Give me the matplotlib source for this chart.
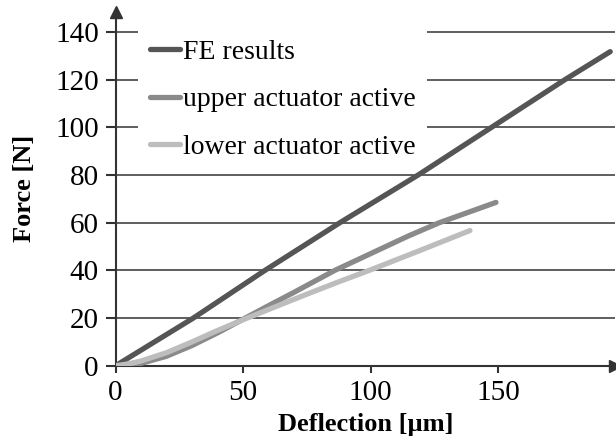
import numpy as np
import matplotlib.pyplot as plt

plt.rcParams['font.family'] = ['Liberation Serif', 'DejaVu Serif']

# FE results (deflection in um, force in N)
fe_x = [0, 30.5, 58.6, 88, 118.7, 147.5, 176.3, 194]
fe_y = [0, 20, 40, 60, 80, 100, 120, 131.7]

# upper actuator active
up_x = [0, 5, 10, 20, 30, 40, 50, 60, 70, 86, 100, 115, 127, 149.2]
up_y = [0, 0.2, 1, 4, 8.5, 13.8, 19.5, 25.2, 30.8, 40, 47, 54.5, 60, 68.5]

# lower actuator active
lo_x = [0, 5, 10, 20, 30, 40, 50, 60, 75, 87, 100, 120, 139]
lo_y = [0, 0.8, 2, 5.5, 10, 14.8, 19.3, 23.6, 30, 35, 40.2, 48.6, 56.7]

x_ticks = [0, 50, 100, 150]
y_ticks = [0, 20, 40, 60, 80, 100, 120, 140]

fig = plt.figure(figsize=(6.16, 4.42), dpi=100)
ax = fig.add_axes([0.1875, 0.1724, 0.8114, 0.8014])

axcol = '#333333'
ax.plot(fe_x, fe_y, color='#555555', lw=3.8, solid_capstyle='round', label='FE results', zorder=3)
ax.plot(up_x, up_y, color='#8a8a8a', lw=3.8, solid_capstyle='round', label='upper actuator active', zorder=3)
ax.plot(lo_x, lo_y, color='#bdbdbd', lw=3.8, solid_capstyle='round', label='lower actuator active', zorder=3)

ax.set_xlim(0, 196)
ax.set_ylim(0, 148.5)
ax.set_xticks(x_ticks)
ax.set_yticks(y_ticks)

# horizontal grid lines
for yv in y_ticks[1:]:
    ax.axhline(yv, color=axcol, lw=1.1, zorder=1)

for s in ['top', 'right']:
    ax.spines[s].set_visible(False)
for s in ['left', 'bottom']:
    ax.spines[s].set_color(axcol)
    ax.spines[s].set_linewidth(1.5)
    ax.spines[s].set_zorder(2.5)

# arrow heads
ax.plot(1, 0, '>', color=axcol, ms=9, transform=ax.transAxes, clip_on=False)
ax.plot(0, 1, '^', color=axcol, ms=9, transform=ax.transAxes, clip_on=False)

ax.tick_params(axis='y', direction='out', length=7, width=1.5, color=axcol, labelsize=21, pad=5)
ax.tick_params(axis='x', direction='out', length=5, width=1.5, color=axcol, labelsize=21, pad=5)

ax.set_xlabel('Deflection [µm]', fontsize=19, fontweight='bold', labelpad=5)
ax.set_ylabel('Force [N]', fontsize=19, fontweight='bold', labelpad=14)

# white legend box hides the grid lines behind it, curves stay on top
leg = ax.legend(loc='upper left', bbox_to_anchor=(0.046, 0.953), fontsize=20,
                frameon=True, fancybox=False, framealpha=1, edgecolor='none',
                facecolor='white', handlelength=1.1, handletextpad=0.1,
                labelspacing=0.8, borderpad=0.4, borderaxespad=0)
leg.set_zorder(2)

plt.savefig('out.png', dpi=100)
